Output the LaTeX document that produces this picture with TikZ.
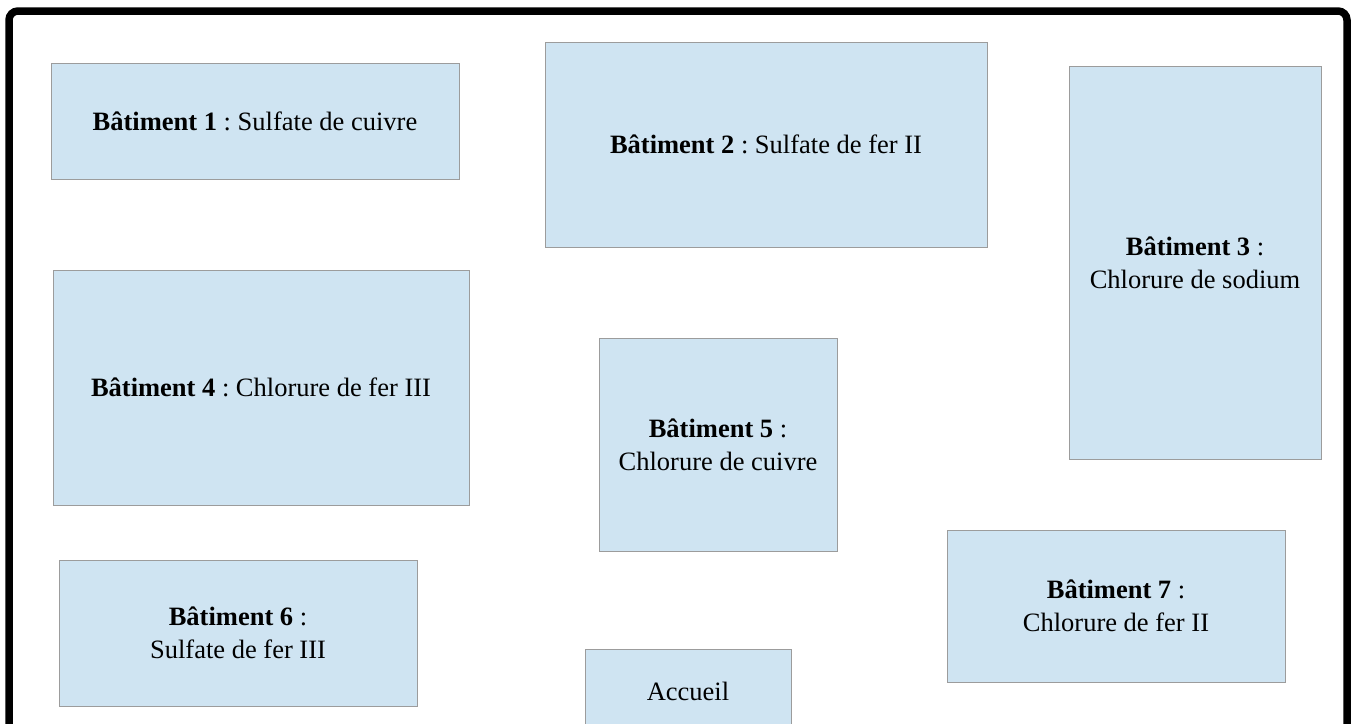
\documentclass[tikz,border=0pt]{standalone}
\usepackage{fontspec}
\setmainfont{Liberation Serif}
\frenchspacing
\definecolor{boxfill}{HTML}{CFE4F2}
\definecolor{boxline}{HTML}{9C9C9C}
\begin{document}
\begin{tikzpicture}[x=1pt,y=-1pt,
  bld/.style={draw=boxline, fill=boxfill, line width=1pt, inner sep=0pt, align=center,
    font=\fontsize{26.5}{33}\selectfont},
  frame/.style={line width=7.5pt, rounded corners=9pt}]
\clip (0,0) rectangle (1356,723);
\fill[white] (0,0) rectangle (1356,723);
\draw[frame] (9,760) -- (9,11) -- (1347,11) -- (1347,760);
\node[bld, minimum width=408pt, minimum height=116pt] (b1) at (255,121) {\textbf{Bâtiment 1} : Sulfate de cuivre};
\node[bld, minimum width=442pt, minimum height=205pt] (b2) at (766,144.5) {\textbf{Bâtiment 2} : Sulfate de fer II};
\node[bld, minimum width=252pt, minimum height=393pt] (b3) at (1195,262.5) {\textbf{Bâtiment 3} :\\Chlorure de sodium};
\node[bld, minimum width=416pt, minimum height=235pt] (b4) at (261,387.5) {\textbf{Bâtiment 4} : Chlorure de fer III};
\node[bld, minimum width=238pt, minimum height=213pt] (b5) at (718,444.5) {\textbf{Bâtiment 5} :\\Chlorure de cuivre};
\node[bld, minimum width=358pt, minimum height=146pt] (b6) at (238,633) {\textbf{Bâtiment 6} :\\Sulfate de fer III};
\node[bld, minimum width=338pt, minimum height=152pt] (b7) at (1116,606) {\textbf{Bâtiment 7} :\\Chlorure de fer II};
\node[bld, minimum width=206pt, minimum height=84pt] (acc) at (688,691) {Accueil};
\end{tikzpicture}
\end{document}
